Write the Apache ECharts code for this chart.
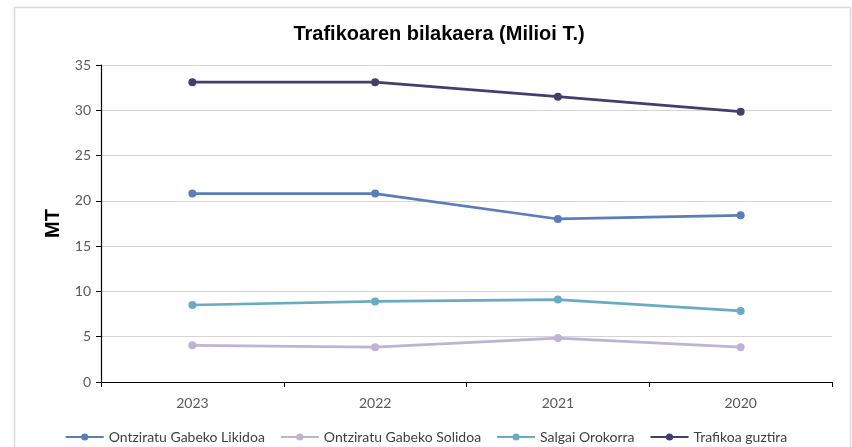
<!DOCTYPE html>
<html>
<head>
<meta charset="utf-8">
<script src="https://cdn.jsdelivr.net/npm/echarts@6/dist/echarts.min.js"></script>
<style>
  html, body { margin: 0; padding: 0; background: #fff; }
  #main { width: 852px; height: 447px; }
</style>
</head>
<body>
<div id="main"></div>
<script>
// urteak (x ardatza)
var years = ['2023', '2022', '2021', '2020'];
// balioak, milioi tona
var likidoa = [20.8, 20.8, 18.0, 18.4];
var solidoa = [4.05, 3.85, 4.85, 3.85];
var salgai = [8.5, 8.9, 9.1, 7.85];
var guztira = [33.1, 33.1, 31.5, 29.85];

var seriesNames = ['Ontziratu Gabeko Likidoa', 'Ontziratu Gabeko Solidoa', 'Salgai Orokorra', 'Trafikoa guztira'];
var colors = ['#5b7db9', '#bdb3d5', '#6aaac3', '#453d6e'];

var myChart = echarts.init(document.getElementById('main'));

function mkSeries(name, data, color) {
    return {
        name: name,
        type: 'line',
        data: data,
        symbol: 'circle',
        symbolSize: 8,
        showSymbol: true,
        lineStyle: { width: 2.7, color: color },
        itemStyle: { color: color },
        animation: false
    };
}

myChart.setOption({
    backgroundColor: '#fff',
    color: colors,
    title: {
        text: 'Trafikoaren bilakaera (Milioi T.)',
        left: 434,
        textAlign: 'center',
        top: 19,
        textStyle: {
            fontFamily: 'Liberation Sans',
            fontSize: 20,
            fontWeight: 'bold',
            color: '#000'
        }
    },
    graphic: [{
        type: 'rect',
        shape: { x: 14.5, y: 7.5, width: 836, height: 460 },
        style: { fill: 'none', stroke: '#d9d9d9', lineWidth: 1.5 },
        silent: true
    }],
    legend: {
        top: 430,
        left: 'center',
        padding: 0,
        itemWidth: 38,
        itemHeight: 9,
        itemGap: 15,
        textStyle: { fontFamily: 'Lato', fontSize: 14, color: '#404040' },
        data: seriesNames
    },
    grid: {
        left: 101,
        right: 20,
        top: 65,
        bottom: 65
    },
    xAxis: {
        type: 'category',
        data: years,
        boundaryGap: true,
        axisLine: { lineStyle: { color: '#000', width: 1.2 } },
        axisTick: { show: true, length: 5, inside: false, lineStyle: { color: '#000' } },
        axisLabel: { fontFamily: 'Lato', fontSize: 14, color: '#595959', margin: 14 }
    },
    yAxis: {
        type: 'value',
        min: 0,
        max: 35,
        interval: 5,
        name: 'MT',
        nameLocation: 'middle',
        nameGap: 38,
        nameRotate: 90,
        nameTextStyle: { fontFamily: 'Liberation Sans', fontSize: 20, fontWeight: 'bold', color: '#000' },
        axisLine: { show: true, lineStyle: { color: '#000', width: 1.2 } },
        axisTick: { show: true, length: 5, lineStyle: { color: '#000' } },
        axisLabel: { fontFamily: 'Lato', fontSize: 14, color: '#595959', margin: 10 },
        splitLine: { lineStyle: { color: '#d4d4d4', width: 1.2 } }
    },
    series: [
        mkSeries(seriesNames[0], likidoa, colors[0]),
        mkSeries(seriesNames[1], solidoa, colors[1]),
        mkSeries(seriesNames[2], salgai, colors[2]),
        mkSeries(seriesNames[3], guztira, colors[3])
    ]
});
</script>
</body>
</html>
